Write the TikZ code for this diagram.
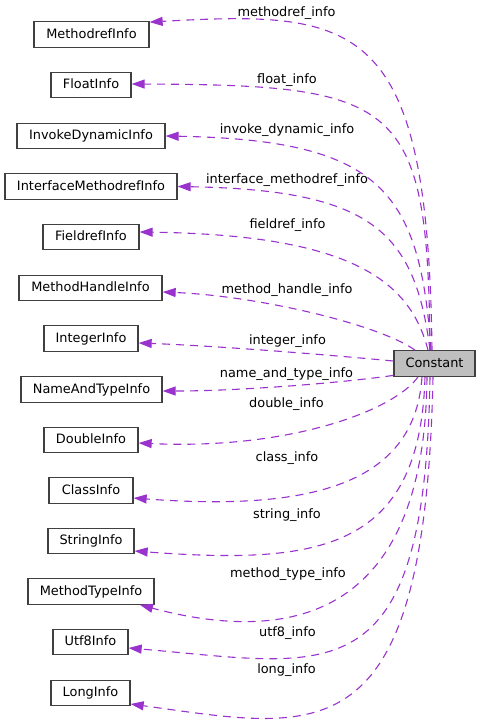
\documentclass[tikz,border=0pt]{standalone}
\usepackage{fontspec}
\setmainfont{DejaVu Sans}
\usetikzlibrary{arrows.meta}
\definecolor{edgec}{HTML}{9A32CD}
\definecolor{boxc}{HTML}{404040}
\definecolor{hl}{HTML}{BFBFBF}
\tikzset{
  cls/.style={draw=boxc, line width=1.3pt, fill=white, minimum height=25.5pt, inner sep=0pt,
    font=\fontsize{12.9}{15}\selectfont, text height=9.6pt, text depth=2.4pt},
  lbl/.style={anchor=base, inner sep=0pt, font=\fontsize{12.9}{15}\selectfont},
  rel/.style={draw=edgec, line width=1.1pt, dash pattern=on 8pt off 6pt,
    -{Triangle[length=13pt,width=9pt,fill=edgec]}}
}
\begin{document}
\begin{tikzpicture}[x=1pt,y=-1pt]
\useasboundingbox (0,0) rectangle (480,724);
\fill[white] (0,0) rectangle (480,724);
% nodes
\node[cls, minimum width=81pt, fill=hl] (c) at (434.5,363.5) {Constant};
\node[cls, minimum width=115pt] (n1) at (91.5,34.5) {MethodrefInfo};
\node[cls, minimum width=80pt] (n2) at (91,85) {FloatInfo};
\node[cls, minimum width=148pt] (n3) at (91,136) {InvokeDynamicInfo};
\node[cls, minimum width=172pt] (n4) at (91,186.5) {InterfaceMethodrefInfo};
\node[cls, minimum width=96pt] (n5) at (91,237) {FieldrefInfo};
\node[cls, minimum width=143pt] (n6) at (90.5,288) {MethodHandleInfo};
\node[cls, minimum width=94pt] (n7) at (91,338.5) {IntegerInfo};
\node[cls, minimum width=141pt] (n8) at (91.5,389.5) {NameAndTypeInfo};
\node[cls, minimum width=94pt] (n9) at (91,440) {DoubleInfo};
\node[cls, minimum width=84pt] (n10) at (91,490.5) {ClassInfo};
\node[cls, minimum width=86pt] (n11) at (91,541) {StringInfo};
\node[cls, minimum width=126pt] (n12) at (91,591.5) {MethodTypeInfo};
\node[cls, minimum width=75pt] (n13) at (90.5,642) {Utf8Info};
\node[cls, minimum width=79pt] (n14) at (90.5,693) {LongInfo};
% edges
\draw[rel] ([xshift=-2.5pt]c.north) .. controls (428,20) and (360,10) .. ([yshift=-1pt]n1.north east);
\draw[rel] ([xshift=-4.5pt]c.north) .. controls (428,100) and (400,85) .. ([yshift=1pt]n2.east);
\draw[rel] ([xshift=-3.5pt]c.north) .. controls (420,190) and (380,140) .. (n3.east);
\draw[rel] ([xshift=-4.5pt]c.north) .. controls (415,230) and (370,190) .. (n4.east);
\draw[rel] ([xshift=-6.5pt]c.north) .. controls (410,280) and (350,235) .. ([yshift=5pt]n5.east);
\draw[rel] ([xshift=-19.5pt]c.north) .. controls (380,325) and (260,296) .. ([yshift=-4pt]n6.east);
\draw[rel] ([yshift=2.5pt]c.west) .. controls (330,355) and (220,346) .. ([yshift=-4.5pt]n7.east);
\draw[rel] ([yshift=1.5pt]c.south west) .. controls (340,383) and (240,391) .. ([yshift=-1.5pt]n8.east);
\draw[rel] ([xshift=-16.5pt]c.south) .. controls (395,410) and (290,450) .. ([yshift=-3pt]n9.east);
\draw[rel] ([xshift=-12.5pt]c.south) .. controls (415,480) and (320,512) .. ([yshift=-7.5pt]n10.east);
\draw[rel] ([xshift=-9.5pt]c.south) .. controls (420,550) and (320,565) .. ([yshift=-10pt]n11.east);
\draw[rel] ([xshift=-7.5pt]c.south) .. controls (425,600) and (310,650) .. ([xshift=49pt]n12.south);
\draw[rel] ([xshift=-4.5pt]c.south) .. controls (425,700) and (330,665) .. ([yshift=-6pt]n13.east);
\draw[rel] ([xshift=-1.5pt]c.south) .. controls (425,760) and (320,730) .. ([yshift=-11pt]n14.east);
% labels
\node[lbl] (l1) at (286.5,16) {methodref\_info};
\node[lbl] (l2) at (287,83) {float\_info};
\node[lbl] (l3) at (287,133) {invoke\_dynamic\_info};
\node[lbl] (l4) at (287,183) {interface\_methodref\_info};
\node[lbl] (l5) at (287.5,228) {fieldref\_info};
\node[lbl] (l6) at (287,293) {method\_handle\_info};
\node[lbl] (l7) at (287.5,344) {integer\_info};
\node[lbl] (l8) at (286.5,377) {name\_and\_type\_info};
\node[lbl] (l9) at (286.5,407) {double\_info};
\node[lbl] (l10) at (287,461) {class\_info};
\node[lbl] (l11) at (287,518) {string\_info};
\node[lbl] (l12) at (288,577) {method\_type\_info};
\node[lbl] (l13) at (287.5,636) {utf8\_info};
\node[lbl] (l14) at (286.5,673) {long\_info};
\end{tikzpicture}
\end{document}
